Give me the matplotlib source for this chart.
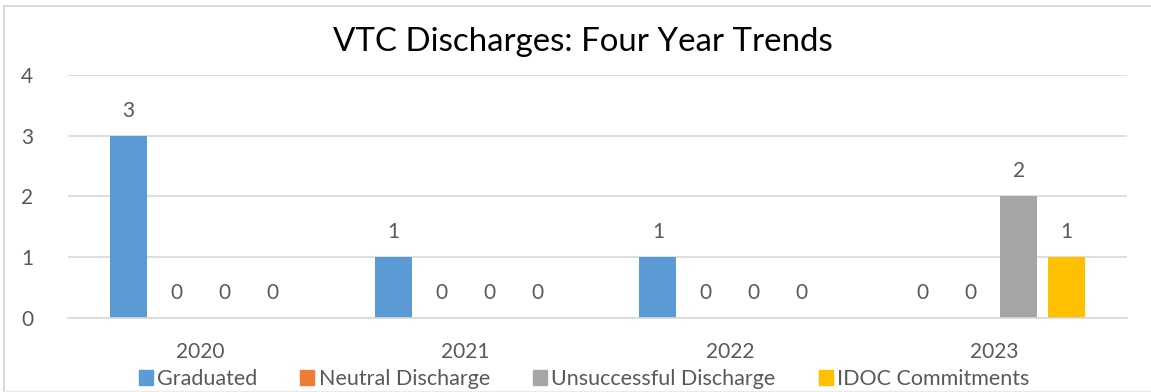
import matplotlib
matplotlib.use("Agg")
import matplotlib.pyplot as plt
from matplotlib.lines import Line2D
import numpy as np

years = ["2020", "2021", "2022", "2023"]
series_names = ["Graduated", "Neutral Discharge", "Unsuccessful Discharge", "IDOC Commitments"]
graduated = [3, 1, 1, 0]
neutral = [0, 0, 0, 0]
unsuccessful = [0, 0, 0, 2]
idoc = [0, 0, 0, 1]
colors = ["#5B9BD5", "#ED7D31", "#A5A5A5", "#FFC000"]
title = "VTC Discharges: Four Year Trends"
yticks = [0, 1, 2, 3, 4]

plt.rcParams['font.family'] = ['Lato', 'DejaVu Sans']
txt = "#595959"

fig = plt.figure(figsize=(11.51, 3.92), dpi=100)
ax = fig.add_axes([68/1151, 1-318/392, (1127-68)/1151, (318-75)/392])

x = np.arange(len(years))
step = 48/265
width = 37/265
all_series = [graduated, neutral, unsuccessful, idoc]
for i, (vals, name, c) in enumerate(zip(all_series, series_names, colors)):
    pos = x + (i - 1.5) * step
    ax.bar(pos, vals, width, color=c, label=name, zorder=2)
    for p, v in zip(pos, vals):
        ax.annotate(str(v), (p, v), xytext=(0, 18), textcoords="offset points",
                    ha="center", va="center", fontsize=15, color=txt)

ax.set_xlim(-0.5, 3.5)
ax.set_ylim(0, 4)
ax.set_yticks(yticks)
ax.set_xticks(x)
ax.set_xticklabels(years)
ax.yaxis.grid(True, color="#D9D9D9", linewidth=1.2, zorder=0)
ax.set_axisbelow(True)
for s in ["top", "right", "left"]:
    ax.spines[s].set_visible(False)
ax.spines["bottom"].set_color("#D9D9D9")
ax.spines["bottom"].set_linewidth(1.2)
ax.tick_params(axis="both", length=0, labelsize=15, labelcolor=txt)
ax.tick_params(axis="x", pad=17)
ax.tick_params(axis="y", pad=25)

fig.text(583/1151, 1-42/392, title, ha="center", va="center", fontsize=23.8, color="#000000")

handles = [plt.Rectangle((0, 0), 1, 1, color=c) for c in colors]
fig.legend(handles, series_names, loc="center", bbox_to_anchor=(584/1151, 1-379/392),
           ncol=4, frameon=False, fontsize=15.5, handlelength=0.65, handleheight=0.65,
           handletextpad=0.2, columnspacing=2.0, labelcolor=txt,
           borderpad=0, borderaxespad=0)

# chart border
fig.add_artist(Line2D([4/1151, 4/1151], [0, 1-6/392], color="#D9D9D9", lw=1.5, transform=fig.transFigure))
fig.add_artist(Line2D([4/1151, 1], [1-6/392, 1-6/392], color="#D9D9D9", lw=1.5, transform=fig.transFigure))
fig.add_artist(Line2D([4/1151, 1], [1/392, 1/392], color="#EBEBEB", lw=1.0, transform=fig.transFigure))

fig.savefig("out.png", dpi=100)
